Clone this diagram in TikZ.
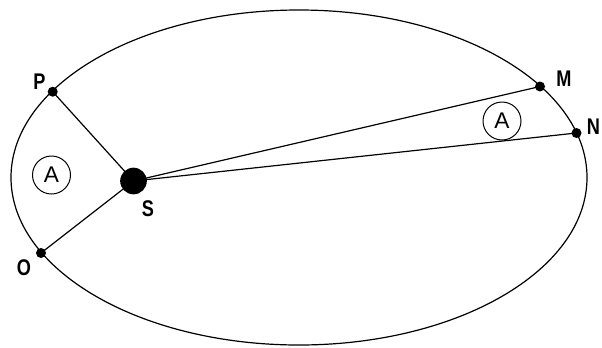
\documentclass[tikz,border=0pt]{standalone}
\usepackage{fontspec}
\setmainfont{Liberation Sans}
\newfontfamily\lblfont{Liberation Sans}[FakeStretch=0.8]
\begin{document}
\begin{tikzpicture}[x=0.75pt,y=-0.75pt,
  orbit/.style={draw=black,line width=0.9pt},
  ray/.style={draw=black,line width=0.9pt},
  pdot/.style={circle,fill=black,inner sep=0pt,minimum size=7.5pt},
  sun/.style={circle,fill=black,inner sep=0pt,minimum size=20pt},
  lbl/.style={font=\lblfont\bfseries\fontsize{17}{17}\selectfont,inner sep=0pt},
  area/.style={circle,draw=black,line width=0.75pt,minimum size=28.5pt,inner sep=0pt,font=\fontsize{17}{17}\selectfont}]
\useasboundingbox (0,0) rectangle (602,347);
\fill[white] (0,0) rectangle (602,347);
\draw[orbit] (299,177.5) ellipse [x radius=288, y radius=167.5];
\node[pdot] (P) at (52.7,91.7) {};
\node[pdot] (O) at (41,253) {};
\node[pdot] (M) at (540,86.5) {};
\node[pdot] (N) at (576.5,133) {};
\node[sun] (S) at (133.5,181) {};
\draw[ray] (P.center) -- (S.center);
\draw[ray] (O.center) -- (S.center);
\draw[ray] (S.center) -- (M.center);
\draw[ray] (S.center) -- (N.center);
\node[lbl] (lP) at (39.5,82) {P};
\node[lbl] (lO) at (24,268) {O};
\node[lbl] (lM) at (564,79) {M};
\node[lbl] (lN) at (593.5,127) {N};
\node[lbl] (lS) at (148,209) {S};
\node[area] (A1) at (51.5,175) {A};
\node[area] (A2) at (502,121) {A};
\end{tikzpicture}
\end{document}
